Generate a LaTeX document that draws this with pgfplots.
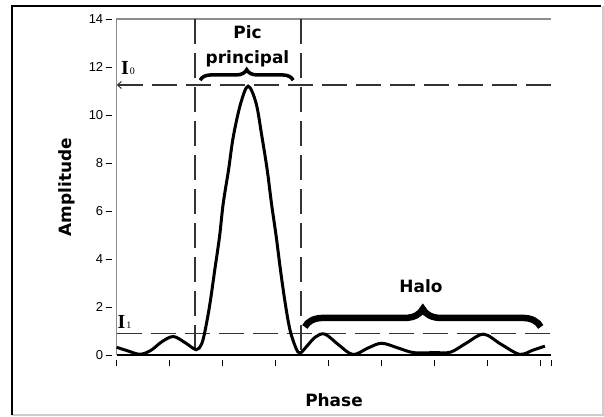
\documentclass[border=0pt]{standalone}
\usepackage{fontspec}
\setmainfont{DejaVu Sans}
\newfontfamily\tickfont{Liberation Sans}
\newfontfamily\serifI{Liberation Serif}
\usepackage{pgfplots}
\pgfplotsset{compat=1.18}
\usetikzlibrary{decorations.pathreplacing, arrows.meta}

\begin{document}
\begin{tikzpicture}[x=1bp,y=1bp]
\useasboundingbox (0,0) rectangle (604,416);
\fill[white] (0,0) rectangle (604,416);
\draw[black!20, line width=1.2bp] (12,1) -- (603,1) -- (603,410);
\draw[black, line width=1.6bp] (12,0.6) -- (12,410) -- (601,410);
\begin{axis}[
  at={(116.7bp,61bp)}, anchor=south west, scale only axis,
  width=434.6bp, height=336bp,
  xmin=0, xmax=8.2, ymin=0, ymax=14,
  axis line style={draw=none},
  xtick={0,1,2,3,4,5,6,7,8,8.2}, xticklabel=\empty,
  ytick={0,2,...,14},
  xtick pos=bottom, ytick pos=left,
  tick align=outside, major tick length=6bp,
  x tick style={black, line width=1bp, yshift=-5bp},
  y tick style={black, line width=0.8bp, xshift=-5bp},
  /pgf/number format/assume math mode=true,
  yticklabel style={font=\tickfont\fontsize{13}{15}\selectfont, xshift=-4bp},
  xlabel={Phase}, ylabel={Amplitude},
  label style={font=\bfseries\fontsize{17}{20}\selectfont},
  x label style={at={(axis description cs:0.5,0)}, anchor=center, yshift=-45bp},
  y label style={at={(axis description cs:-0.1144,0.5)}, anchor=center},
  clip=false,
]
\draw[black!45, line width=1.5bp] (rel axis cs:0,0) -- (rel axis cs:0,1) -- (rel axis cs:1,1);
\draw[black, line width=1.5bp] (rel axis cs:0,0) -- (rel axis cs:1,0);

\addplot[black!80, line width=1.6bp, dash pattern=on 25bp off 9bp] coordinates {(1.48,14) (1.48,0)};
\addplot[black!80, line width=1.6bp, dash pattern=on 25bp off 9bp] coordinates {(3.48,14) (3.48,0)};
\addplot[black!80, line width=1.6bp, dash pattern=on 25bp off 9bp, {Straight Barb[length=4bp,width=7bp,line width=1bp]}-] coordinates {(0,11.25) (8.2,11.25)};
\addplot[black!80, line width=1.6bp, dash pattern=on 25bp off 9bp] coordinates {(0,0.9) (8.2,0.9)};

\addplot[black, line width=3bp, smooth, tension=0.55] coordinates {
(0,0.32) (0.2,0.18) (0.44,0.03) (0.65,0.2) (0.85,0.55) (1.07,0.77) (1.3,0.5)
(1.5,0.22) (1.6,0.45) (1.67,1.04) (1.76,2.15) (1.85,3.54) (1.94,4.93) (2.01,6.32)
(2.11,7.71) (2.2,9.1) (2.34,10.49) (2.48,11.2) (2.63,10.49) (2.74,9.1) (2.84,7.71)
(2.92,6.32) (3.01,4.93) (3.09,3.54) (3.18,2.15) (3.27,1.04) (3.38,0.3) (3.46,0.08)
(3.6,0.4) (3.75,0.75) (3.93,0.87) (4.2,0.4) (4.46,0.02) (4.75,0.3) (5.0,0.49)
(5.3,0.3) (5.6,0.1) (6.0,0.1) (6.3,0.12) (6.6,0.5) (6.92,0.87) (7.25,0.45)
(7.6,0.03) (7.85,0.2) (8.08,0.37)};

\draw[decorate, decoration={brace, amplitude=10.5bp}, line width=3.5bp] (axis cs:1.575,11.45) -- (axis cs:3.33,11.45);
\draw[decorate, decoration={brace, amplitude=18bp}, line width=6.5bp] (axis cs:3.55,1.17) -- (axis cs:8.0,1.17);
\end{axis}

\node[font=\bfseries\fontsize{17}{20}\selectfont, anchor=base] at (247.5,378) {Pic};
\node[font=\bfseries\fontsize{17}{20}\selectfont, anchor=base] at (247.5,353) {principal};
\node[font=\bfseries\fontsize{17}{20}\selectfont, anchor=base] at (421,123.3) {Halo};
\node[font=\serifI\bfseries\fontsize{20}{20}\selectfont, anchor=base west, inner sep=0pt] at (121,341.5) {I\kern1bp{\mdseries\fontsize{10}{10}\selectfont 0}};
\node[font=\serifI\bfseries\fontsize{20}{20}\selectfont, anchor=base west, inner sep=0pt] at (117.5,88) {I\kern1bp{\mdseries\fontsize{10}{10}\selectfont 1}};
\end{tikzpicture}
\end{document}
